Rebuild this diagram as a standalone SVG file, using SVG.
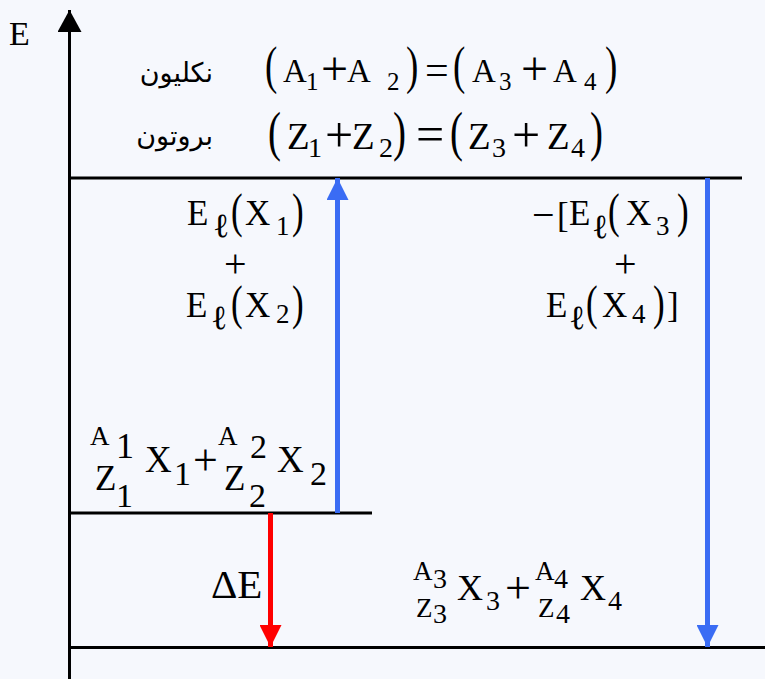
<svg xmlns="http://www.w3.org/2000/svg" width="765" height="679" viewBox="0 0 765 679">
<defs>
<style>
.t{font-family:"Liberation Serif","Times New Roman",serif;fill:#000}
.l{font-family:"Liberation Serif","DejaVu Serif",serif;fill:#000;font-size:34px}
.ar{font-family:"DejaVu Sans","Noto Sans",sans-serif;fill:#000;font-size:27px}
.ln{stroke:#000;stroke-width:3;fill:none}
.bl{stroke:#3a6cf4;stroke-width:5;fill:none}
.rd{stroke:#ff0000;stroke-width:5;fill:none}
</style>
<marker id="hb" markerUnits="userSpaceOnUse" markerWidth="22" markerHeight="22" refX="22" refY="11" orient="auto"><path d="M0,0 L22,11 L0,22 z" fill="#3a6cf4"/></marker>
<marker id="hr" markerUnits="userSpaceOnUse" markerWidth="22" markerHeight="22" refX="22" refY="11" orient="auto"><path d="M0,0 L22,11 L0,22 z" fill="#ff0000"/></marker>
<marker id="hk" markerUnits="userSpaceOnUse" markerWidth="24" markerHeight="24" refX="22" refY="12" orient="auto"><path d="M0,0 L22,12 L0,24 z" fill="#000"/></marker>
</defs>
<rect width="765" height="679" fill="#f6f8fd"/>

<g id="axis">
<line class="ln" x1="69.5" y1="679" x2="69.5" y2="10" marker-end="url(#hk)"/>
<text class="t" x="9" y="45" font-size="34">E</text>
</g>

<g id="levels">
<line class="ln" x1="69" y1="178" x2="742" y2="178"/>
<line class="ln" x1="69" y1="513" x2="372" y2="513"/>
<line class="ln" x1="69" y1="647.5" x2="765" y2="647.5"/>
</g>

<g id="connectors">
<line class="bl" x1="337.5" y1="513" x2="337.5" y2="178" marker-end="url(#hb)"/>
<line class="bl" x1="707.5" y1="178" x2="707.5" y2="647" marker-end="url(#hb)"/>
<line class="rd" x1="270.5" y1="513" x2="270.5" y2="647" marker-end="url(#hr)"/>
</g>

<g id="nucleons">
<text class="ar" x="213" y="82" text-anchor="end">نكليون</text>
<text class="t" font-size="37" transform="translate(265,83) scale(1,1.4)">(</text>
<text class="t" x="283" y="82" font-size="33">A</text>
<text class="t" x="306" y="90" font-size="25">1</text>
<text class="t" x="321" y="85" font-size="48">+</text>
<text class="t" x="347" y="82" font-size="33">A</text>
<text class="t" x="387" y="90" font-size="25">2</text>
<text class="t" font-size="37" transform="translate(406,83) scale(1,1.4)">)</text>
<text class="t" x="425" y="84" font-size="42">=</text>
<text class="t" font-size="37" transform="translate(453,83) scale(1,1.4)">(</text>
<text class="t" x="472" y="82" font-size="33">A</text>
<text class="t" x="499" y="90" font-size="25">3</text>
<text class="t" x="521" y="85" font-size="48">+</text>
<text class="t" x="553" y="82" font-size="33">A</text>
<text class="t" x="584" y="90" font-size="25">4</text>
<text class="t" font-size="37" transform="translate(605,83) scale(1,1.4)">)</text>
</g>

<g id="protons">
<text class="ar" x="213" y="145" text-anchor="end">بروتون</text>
<text class="t" font-size="39" transform="translate(268,150) scale(1,1.4)">(</text>
<text class="t" x="287" y="149" font-size="37">Z</text>
<text class="t" x="308" y="157" font-size="28">1</text>
<text class="t" x="325" y="152" font-size="50">+</text>
<text class="t" x="352" y="149" font-size="37">Z</text>
<text class="t" x="379" y="157" font-size="28">2</text>
<text class="t" font-size="39" transform="translate(393,150) scale(1,1.4)">)</text>
<text class="t" x="416" y="151" font-size="50">=</text>
<text class="t" font-size="39" transform="translate(450,150) scale(1,1.4)">(</text>
<text class="t" x="468" y="149" font-size="37">Z</text>
<text class="t" x="492" y="157" font-size="28">3</text>
<text class="t" x="512" y="152" font-size="50">+</text>
<text class="t" x="547" y="149" font-size="37">Z</text>
<text class="t" x="571" y="157" font-size="28">4</text>
<text class="t" font-size="39" transform="translate(590,150) scale(1,1.4)">)</text>
</g>

<g id="binding-left">
<text class="t" x="187" y="225" font-size="35">E</text>
<text class="l" x="213" y="237">ℓ</text>
<text class="t" font-size="35" transform="translate(231,227) scale(1,1.4)">(</text>
<text class="t" x="245" y="225" font-size="35">X</text>
<text class="t" x="276" y="235" font-size="27">1</text>
<text class="t" font-size="35" transform="translate(292,227) scale(1,1.4)">)</text>
<text class="t" x="224" y="277" font-size="40">+</text>
<text class="t" x="186" y="317" font-size="35">E</text>
<text class="l" x="211" y="329">ℓ</text>
<text class="t" font-size="35" transform="translate(231,319) scale(1,1.4)">(</text>
<text class="t" x="245" y="317" font-size="35">X</text>
<text class="t" x="276" y="323" font-size="27">2</text>
<text class="t" font-size="35" transform="translate(292,319) scale(1,1.4)">)</text>
</g>

<g id="binding-right">
<text class="t" x="532" y="228" font-size="40">−</text>
<text class="t" x="557" y="227" font-size="35">[</text>
<text class="t" x="569" y="225" font-size="35">E</text>
<text class="l" x="592" y="238">ℓ</text>
<text class="t" font-size="35" transform="translate(608,227) scale(1,1.4)">(</text>
<text class="t" x="626" y="225" font-size="35">X</text>
<text class="t" x="656" y="235" font-size="27">3</text>
<text class="t" font-size="35" transform="translate(677,227) scale(1,1.4)">)</text>
<text class="t" x="614" y="277" font-size="40">+</text>
<text class="t" x="546" y="317" font-size="35">E</text>
<text class="l" x="569" y="329">ℓ</text>
<text class="t" font-size="35" transform="translate(586,319) scale(1,1.4)">(</text>
<text class="t" x="602" y="317" font-size="35">X</text>
<text class="t" x="632" y="323" font-size="27">4</text>
<text class="t" font-size="35" transform="translate(653,319) scale(1,1.4)">)</text>
<text class="t" x="667" y="317" font-size="35">]</text>
</g>

<g id="reactants">
<text class="t" x="90" y="445" font-size="27">A</text>
<text class="t" x="116" y="458" font-size="36">1</text>
<text class="t" x="95" y="490" font-size="35">Z</text>
<text class="t" x="116" y="507" font-size="34">1</text>
<text class="t" x="145" y="472" font-size="37">X</text>
<text class="t" x="174" y="485" font-size="34">1</text>
<text class="t" x="193" y="475" font-size="44">+</text>
<text class="t" x="218" y="445" font-size="27">A</text>
<text class="t" x="250" y="458" font-size="34">2</text>
<text class="t" x="224" y="490" font-size="35">Z</text>
<text class="t" x="249" y="507" font-size="34">2</text>
<text class="t" x="277" y="472" font-size="37">X</text>
<text class="t" x="310" y="485" font-size="34">2</text>
</g>

<g id="delta-e">
<text class="t" x="211" y="598" font-size="41">ΔE</text>
</g>

<g id="products">
<text class="t" x="413" y="580" font-size="27">A</text>
<text class="t" x="433" y="588" font-size="28">3</text>
<text class="t" x="416" y="617" font-size="27">Z</text>
<text class="t" x="433" y="623" font-size="28">3</text>
<text class="t" x="457" y="600" font-size="36">X</text>
<text class="t" x="486" y="610" font-size="28">3</text>
<text class="t" x="505" y="603" font-size="46">+</text>
<text class="t" x="535" y="580" font-size="27">A</text>
<text class="t" x="554" y="588" font-size="28">4</text>
<text class="t" x="538" y="617" font-size="27">Z</text>
<text class="t" x="556" y="623" font-size="28">4</text>
<text class="t" x="580" y="600" font-size="36">X</text>
<text class="t" x="608" y="610" font-size="28">4</text>
</g>
</svg>
